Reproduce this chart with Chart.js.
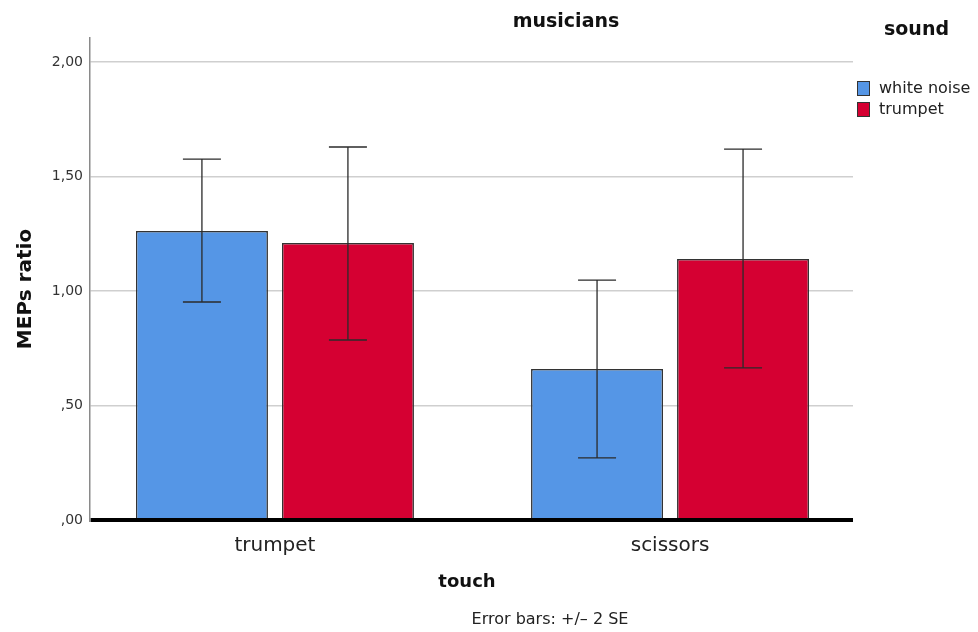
<!DOCTYPE html>
<html>
<head>
<meta charset="utf-8">
<script src="https://cdn.jsdelivr.net/npm/chart.js@4.4.1/dist/chart.umd.min.js"></script>
<style>
  html, body { margin: 0; padding: 0; background: #fff; }
  #wrap { width: 978px; height: 632px; }
</style>
</head>
<body>
<div id="wrap"><canvas id="chart1" width="978" height="632"></canvas></div>
<script>
// categories on the x axis (touch)
const touchCats = ["trumpet", "scissors"];
// series (sound)
const soundNames = ["white noise", "trumpet"];
const soundColors = ["#5596e6", "#d50032"];
// mean MEPs ratio
const whiteNoiseMeans = [1.262, 0.659];
const trumpetMeans = [1.210, 1.140];
// error bars +/- 2 SE
const whiteNoiseLow = [0.952, 0.271];
const whiteNoiseHigh = [1.576, 1.048];
const trumpetLow = [0.786, 0.664];
const trumpetHigh = [1.629, 1.620];
const yTicks = [0, 0.5, 1, 1.5, 2];

const FONT = "'DejaVu Sans', 'Open Sans', sans-serif";

function fmt(v) {
  let s = v.toFixed(2).replace('.', ',');
  if (s.startsWith('0')) s = s.slice(1);
  return s;
}

// error bars + texts + legend
const extras = {
  id: 'extras',
  afterDatasetsDraw(chart) {
    const ctx = chart.ctx;
    const y = chart.scales.y;
    ctx.save();
    ctx.strokeStyle = '#2b2b2b';
    ctx.lineWidth = 1.3;
    chart.data.datasets.forEach((ds, di) => {
      const meta = chart.getDatasetMeta(di);
      meta.data.forEach((bar, i) => {
        const x = bar.x;
        const lo = y.getPixelForValue(ds.errLow[i]);
        const hi = y.getPixelForValue(ds.errHigh[i]);
        ctx.beginPath();
        ctx.moveTo(x, lo); ctx.lineTo(x, hi);
        ctx.moveTo(x - 19, lo); ctx.lineTo(x + 19, lo);
        ctx.moveTo(x - 19, hi); ctx.lineTo(x + 19, hi);
        ctx.stroke();
      });
    });
    ctx.restore();
  },
  afterDraw(chart) {
    const ctx = chart.ctx;
    ctx.save();
    ctx.fillStyle = '#111';
    ctx.textBaseline = 'middle';
    ctx.textAlign = 'center';
    ctx.font = "bold 19px " + FONT;
    ctx.fillText("musicians", 566, 22);
    ctx.font = "bold 18px " + FONT;
    ctx.fillText("touch", 467, 582);
    ctx.font = "16px " + FONT;
    ctx.fillStyle = '#222';
    ctx.fillText("Error bars: +/\u2013 2 SE", 550, 620);
    // y title
    ctx.save();
    ctx.translate(26, 289);
    ctx.rotate(-Math.PI / 2);
    ctx.font = "bold 20px " + FONT;
    ctx.fillStyle = '#111';
    ctx.fillText("MEPs ratio", 0, 0);
    ctx.restore();
    // legend
    ctx.textAlign = 'left';
    ctx.font = "bold 19px " + FONT;
    ctx.fillStyle = '#111';
    ctx.fillText("sound", 884, 30);
    ctx.font = "16px " + FONT;
    soundNames.forEach((n, i) => {
      const yy = 81 + i * 21;
      ctx.fillStyle = soundColors[i];
      ctx.fillRect(857, yy, 13, 15);
      ctx.strokeStyle = '#333';
      ctx.lineWidth = 1;
      ctx.strokeRect(857.5, yy + 0.5, 12, 14);
      ctx.fillStyle = '#222';
      ctx.fillText(n, 879, yy + 8);
    });
    ctx.restore();
  }
};

const toPts = arr => arr.map((v, i) => ({ x: i, y: v }));

new Chart(document.getElementById('chart1'), {
  type: 'bar',
  data: {
    datasets: [
      { label: soundNames[0], data: toPts(whiteNoiseMeans), errLow: whiteNoiseLow, errHigh: whiteNoiseHigh,
        backgroundColor: soundColors[0], borderColor: '#333', borderWidth: 1.5 },
      { label: soundNames[1], data: toPts(trumpetMeans), errLow: trumpetLow, errHigh: trumpetHigh,
        backgroundColor: soundColors[1], borderColor: '#333', borderWidth: 1.5 }
    ]
  },
  options: {
    responsive: false,
    animation: false,
    layout: { padding: { top: 38, right: 125, left: 0, bottom: 0 } },
    categoryPercentage: 0.739,
    barPercentage: 0.904,
    plugins: {
      legend: { display: false },
      tooltip: { enabled: false }
    },
    scales: {
      x: {
        type: 'linear',
        min: -0.468, max: 1.463,
        offset: false,
        afterBuildTicks: s => { s.ticks = touchCats.map((c, i) => ({ value: i })); },
        grid: { display: false },
        border: { display: false },
        ticks: { color: '#222', font: { family: FONT, size: 20 }, padding: 6,
                 callback: v => touchCats[v] },
        afterFit: s => { s.height = 112; }
      },
      y: {
        min: 0, max: 2.105,
        afterBuildTicks: s => { s.ticks = yTicks.map(v => ({ value: v })); },
        afterFit: s => { s.width = 90; },
        border: { display: true, color: '#8a8a8a', width: 1.5 },
        grid: {
          drawTicks: false,
          color: c => c.tick && c.tick.value === 0 ? '#000' : '#cfcfcf',
          lineWidth: c => c.tick && c.tick.value === 0 ? 4 : 1.5
        },
        ticks: {
          padding: 7,
          color: '#333',
          font: { family: FONT, size: 14 },
          callback: v => fmt(v)
        }
      }
    }
  },
  plugins: [extras]
});
</script>
</body>
</html>
